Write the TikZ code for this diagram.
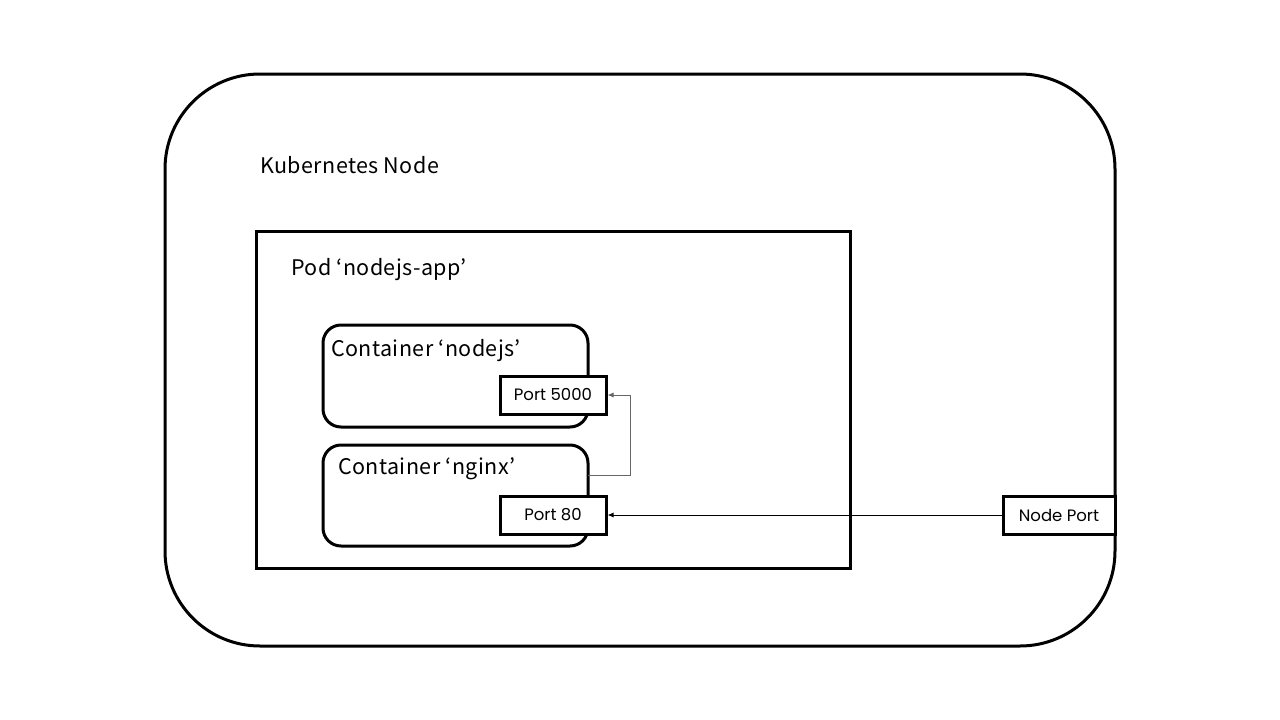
\documentclass[tikz,border=0pt]{standalone}
\usepackage{fontspec}
\setmainfont{Noto Sans CJK KR}[LetterSpace=2]
\newfontfamily\portfont{Poppins}
\usetikzlibrary{arrows.meta}
\begin{document}
\begin{tikzpicture}[x=1pt,y=-1pt,
  lbl/.style={anchor=west,inner sep=0pt,font=\fontsize{21.5}{25}\selectfont},
  portbox/.style={draw=black,line width=3pt,fill=white,minimum width=106pt,minimum height=38pt,inner sep=0pt,font=\portfont\fontsize{16.5}{19}\selectfont},
  cbox/.style={draw=black,line width=3pt,rounded corners=18pt},
  conn/.style={line width=0.9pt,-{Latex[length=6pt,width=5pt]}}
]
\useasboundingbox (0,0) rectangle (1280,720);
\draw[line width=3pt,rounded corners=95pt] (165,74) rectangle (1115,646);
\node[lbl] (kn) at (260,165) {Kubernetes Node};
\draw[line width=3pt] (256,231) rectangle (850,568);
\node[lbl] (pod) at (291,270) {Pod ‘nodejs-app’};
\draw[cbox] (323,325) rectangle (588,427);
\coordinate (c1) at (588,376);
\node[lbl] (cn) at (331,351) {Container ‘nodejs’};
\draw[cbox] (323,445) rectangle (588,546);
\coordinate (c2) at (588,475);
\node[lbl] (cx) at (338,469) {Container ‘nginx’};
\node[portbox] (p5000) at (553,395) {Port 5000};
\node[portbox] (p80) at (553,515) {Port 80};
\node[portbox,minimum width=112pt] (np) at (1059,515) {Node Port};
\draw[conn,draw=black!60] (c2) -- (630,475) |- (p5000.east);
\draw[conn] (np.west) -- (p80.east);
\end{tikzpicture}
\end{document}
